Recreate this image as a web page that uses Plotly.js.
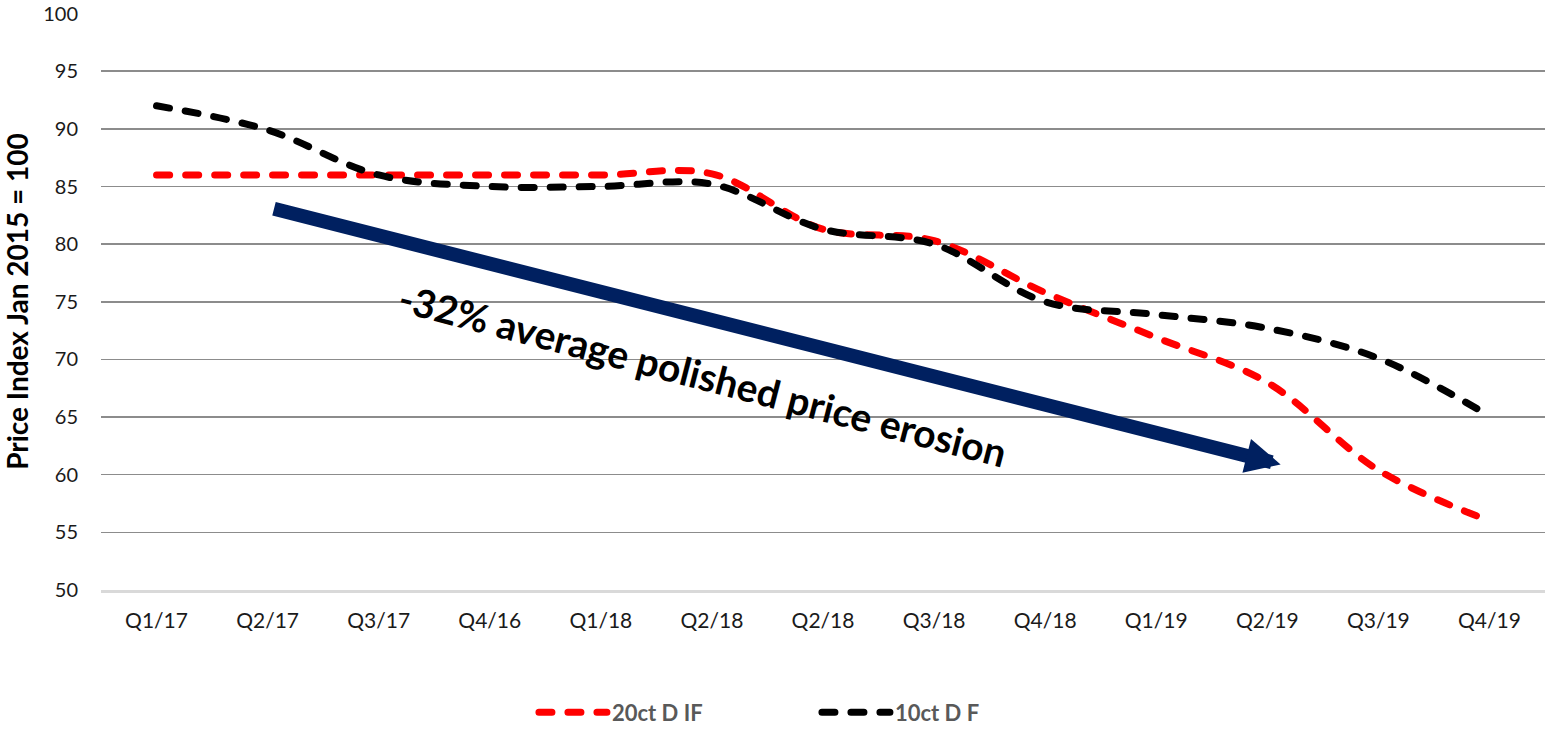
<!DOCTYPE html>
<html>
<head>
<meta charset="utf-8">
<script src="https://cdn.plot.ly/plotly-3.0.1.min.js"></script>
<style>
html,body{margin:0;padding:0;background:#fff;}
#chart{width:1546px;height:729px;}
.scatterlayer .js-line, .legend .js-line { stroke-linecap: round; }
</style>
</head>
<body>
<div id="chart"></div>
<script>
const categories = ["Q1/17","Q2/17","Q3/17","Q4/16","Q1/18","Q2/18","Q2/18","Q3/18","Q4/18","Q1/19","Q2/19","Q3/19","Q4/19"];
const series20ctDIF = [86, 86, 86, 86, 86, 86.1, 81.3, 80.3, 75.8, 71.9, 68.0, 60.4, 56.0];
const series10ctDF = [92.0, 89.9, 86.0, 85.0, 85.0, 85.2, 81.3, 80.0, 75.0, 73.9, 72.7, 70.1, 65.1];
const yTicks = [50, 55, 60, 65, 70, 75, 80, 85, 90, 95, 100];
const annotationText = "-32% average polished price erosion";

const xIdx = categories.map((_, i) => i);

const traces = [
  {
    name: "20ct D IF", x: xIdx, y: series20ctDIF, type: "scatter", mode: "lines",
    line: {color: "#ff0000", width: 7, dash: "13px,16px", shape: "spline", smoothing: 1}
  },
  {
    name: "10ct D F", x: xIdx, y: series10ctDF, type: "scatter", mode: "lines",
    line: {color: "#000000", width: 7, dash: "13px,16px", shape: "spline", smoothing: 1}
  }
];

const layout = {
  width: 1546, height: 729,
  margin: {l: 101, r: 1, t: 13, b: 139, autoexpand: false},
  paper_bgcolor: "#ffffff", plot_bgcolor: "#ffffff",
  font: {family: "Lato, 'Open Sans', sans-serif", size: 20, color: "#1a1a1a"},
  showlegend: true,
  xaxis: {
    range: [-0.5, 12.5], tickmode: "array", tickvals: xIdx, ticktext: categories,
    showgrid: false, zeroline: false, showline: true, linecolor: "#d9d9d9", linewidth: 2.5,
    ticks: "", ticklabelstandoff: 10, fixedrange: true, automargin: false,
    tickfont: {family: "Lato, sans-serif", size: 21, color: "#1a1a1a"}
  },
  yaxis: {
    range: [50, 100.05], tickmode: "array", tickvals: yTicks,
    showgrid: true, gridcolor: "#8c8c8c", gridwidth: 1.5, zeroline: false, showline: false,
    ticks: "", ticklabelstandoff: 22, fixedrange: true, automargin: false,
    ticklabeloverflow: "allow",
    tickfont: {family: "Lato, sans-serif", size: 20, color: "#1a1a1a"},
    title: {text: "Price Index Jan 2015 = 100", standoff: 12,
            font: {family: "Lato, sans-serif", size: 28, color: "#000000", weight: "bold"}}
  },
  legend: {
    orientation: "h", x: 0.4958, xanchor: "center", y: -0.2124, yanchor: "middle",
    font: {family: "Lato, sans-serif", size: 22, color: "#595959", weight: "bold"},
    entrywidth: 200, itemwidth: 68, bgcolor: "rgba(0,0,0,0)"
  },
  annotations: [
    {
      x: 10.12, y: 60.89, ax: 1.044, ay: 83.1, xref: "x", yref: "y", axref: "x", ayref: "y",
      text: "", showarrow: true, arrowhead: 2, arrowsize: 0.5, arrowwidth: 14, arrowcolor: "#002060",
      standoff: 0, startstandoff: 0
    },
    {
      x: 4.92, y: 68.67, xref: "x", yref: "y", showarrow: false, textangle: 14.5,
      text: annotationText,
      font: {family: "Lato, sans-serif", size: 39, color: "#000000", weight: "bold"}
    }
  ]
};

Plotly.newPlot("chart", traces, layout, {displayModeBar: false, staticPlot: true});
</script>
</body>
</html>
